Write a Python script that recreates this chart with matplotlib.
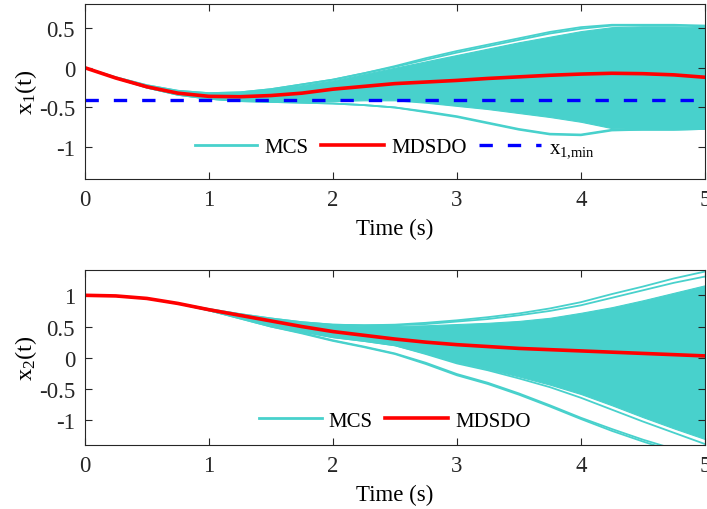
import numpy as np
import matplotlib
matplotlib.use('Agg')
import matplotlib.pyplot as plt
from matplotlib.lines import Line2D

plt.rcParams['font.family'] = ['Liberation Serif', 'DejaVu Serif']
plt.rcParams['mathtext.fontset'] = 'custom'
plt.rcParams['mathtext.rm'] = 'Liberation Serif'
plt.rcParams['mathtext.it'] = 'Liberation Serif'

# time samples (s)
t = [0, 0.25, 0.5, 0.75, 1, 1.25, 1.5, 1.75, 2, 2.25, 2.5, 2.75,
     3, 3.25, 3.5, 3.75, 4, 4.25, 4.5, 4.75, 5]

# ---- x1(t) ----
x1_mdsdo = [0, -0.13, -0.24, -0.32, -0.36, -0.365, -0.35, -0.32, -0.27, -0.235, -0.2, -0.18,
            -0.16, -0.135, -0.115, -0.095, -0.08, -0.07, -0.075, -0.09, -0.12]
x1_band_hi = [0, -0.12, -0.22, -0.29, -0.32, -0.31, -0.27, -0.22, -0.16, -0.08, 0.0, 0.08,
              0.16, 0.24, 0.32, 0.39, 0.46, 0.51, 0.52, 0.52, 0.51]
x1_band_lo = [0, -0.13, -0.25, -0.34, -0.39, -0.41, -0.42, -0.42, -0.42, -0.41, -0.41, -0.44,
              -0.48, -0.52, -0.57, -0.62, -0.68, -0.76, -0.77, -0.77, -0.76]
x1_out_hi = [[0, -0.12, -0.22, -0.29, -0.32, -0.31, -0.27, -0.21, -0.15, -0.07, 0.02, 0.12,
              0.21, 0.29, 0.37, 0.45, 0.51, 0.54, 0.54, 0.54, 0.53],
             [0, -0.12, -0.22, -0.29, -0.32, -0.31, -0.27, -0.21, -0.15, -0.07, 0.01, 0.10,
              0.19, 0.27, 0.35, 0.43, 0.49, 0.53, 0.53, 0.53, 0.52]]
x1_out_lo = [[0, -0.13, -0.25, -0.34, -0.39, -0.42, -0.43, -0.44, -0.45, -0.47, -0.5, -0.55,
              -0.61, -0.69, -0.77, -0.83, -0.84, -0.78, -0.78, -0.78, -0.77],
             [0, -0.13, -0.25, -0.34, -0.39, -0.42, -0.43, -0.44, -0.45, -0.47, -0.5, -0.56,
              -0.62, -0.70, -0.78, -0.84, -0.85, -0.79, -0.78, -0.78, -0.77]]
x1_min = -0.4

# ---- x2(t) ----
x2_mdsdo = [1.0, 0.99, 0.95, 0.87, 0.77, 0.68, 0.59, 0.5, 0.42, 0.36, 0.3, 0.25,
            0.21, 0.18, 0.15, 0.13, 0.11, 0.09, 0.07, 0.05, 0.03]
x2_band_hi = [1.0, 0.99, 0.95, 0.87, 0.78, 0.70, 0.63, 0.57, 0.53, 0.51, 0.51, 0.52,
              0.54, 0.56, 0.59, 0.64, 0.72, 0.81, 0.92, 1.04, 1.16]
x2_band_lo = [1.0, 0.99, 0.95, 0.87, 0.76, 0.64, 0.53, 0.42, 0.33, 0.27, 0.2, 0.07,
              -0.07, -0.18, -0.3, -0.43, -0.58, -0.76, -0.95, -1.13, -1.3]
x2_out_hi = [[1.0, 0.99, 0.95, 0.87, 0.78, 0.70, 0.63, 0.57, 0.53, 0.52, 0.53, 0.56,
              0.6, 0.65, 0.71, 0.79, 0.89, 1.02, 1.14, 1.27, 1.38],
             [1.0, 0.99, 0.95, 0.87, 0.78, 0.70, 0.63, 0.57, 0.53, 0.52, 0.52, 0.54,
              0.58, 0.62, 0.68, 0.75, 0.84, 0.96, 1.08, 1.2, 1.3]]
x2_out_lo = [[1.0, 0.99, 0.95, 0.87, 0.76, 0.63, 0.5, 0.4, 0.28, 0.18, 0.07, -0.08,
              -0.26, -0.4, -0.57, -0.76, -0.96, -1.14, -1.31, -1.46, -1.6],
             [1.0, 0.99, 0.95, 0.87, 0.76, 0.63, 0.5, 0.39, 0.27, 0.17, 0.06, -0.1,
              -0.28, -0.42, -0.59, -0.78, -0.98, -1.17, -1.34, -1.5, -1.64],
             [1.0, 0.99, 0.95, 0.87, 0.76, 0.64, 0.53, 0.42, 0.33, 0.27, 0.2, 0.06,
              -0.09, -0.2, -0.33, -0.47, -0.64, -0.83, -1.02, -1.2, -1.38]]

teal = '#48D1CC'
fs = 16.5
lfs = 15

fig = plt.figure(figsize=(7.07, 5.10), dpi=100)
ax1 = fig.add_axes([0.120, 0.647, 0.877, 0.343])
ax2 = fig.add_axes([0.120, 0.125, 0.877, 0.343])


def band(ax, hi, lo, outs):
    ax.fill_between(t, lo, hi, color=teal, lw=0.8, edgecolor=teal)
    for o in outs:
        ax.plot(t, o, color=teal, lw=1.3)


band(ax1, x1_band_hi, x1_band_lo, x1_out_hi + x1_out_lo)
ax1.plot(t, x1_mdsdo, color='red', lw=2.6)
ax1.axhline(x1_min, color='blue', lw=2.4, ls=(0, (4, 4.5)))

band(ax2, x2_band_hi, x2_band_lo, x2_out_hi + x2_out_lo)
ax2.plot(t, x2_mdsdo, color='red', lw=2.6)

ax1.set_ylim(-1.4, 0.8)
ax1.set_yticks([-1, -0.5, 0, 0.5])
ax1.set_yticklabels(['-1', '-0.5', '0', '0.5'])
ax2.set_ylim(-1.4, 1.4)
ax2.set_yticks([-1, -0.5, 0, 0.5, 1])
ax2.set_yticklabels(['-1', '-0.5', '0', '0.5', '1'])

ax1.set_ylabel('$\\mathregular{x_1(t)}$', fontsize=fs + 1, labelpad=0)
ax2.set_ylabel('$\\mathregular{x_2(t)}$', fontsize=fs + 1, labelpad=0)

h_mcs = Line2D([], [], color=teal, lw=2)
h_red = Line2D([], [], color='red', lw=2.6)
h_blue = Line2D([], [], color='blue', lw=2.4, ls=(0, (4, 4.5)))
ax1.legend([h_mcs, h_red, h_blue], ['MCS', 'MDSDO', '$\\mathregular{x_{1{,}min}}$'],
           loc='center', bbox_to_anchor=(0.5, 0.175), ncol=3, frameon=False,
           fontsize=lfs, handlelength=3.0, columnspacing=0.6, handletextpad=0.35)
ax2.legend([h_mcs, h_red], ['MCS', 'MDSDO'],
           loc='center', bbox_to_anchor=(0.5, 0.14), ncol=2, frameon=False,
           fontsize=lfs, handlelength=3.0, columnspacing=0.6, handletextpad=0.35)

for ax in (ax1, ax2):
    ax.set_xlim(0, 5)
    ax.set_xticks([0, 1, 2, 3, 4, 5])
    ax.set_xlabel('Time (s)', fontsize=fs, labelpad=6)
    ax.tick_params(direction='in', top=True, right=True, labelsize=fs,
                   length=5, width=0.8, colors='#262626', pad=7)
    for s in ax.spines.values():
        s.set_color('#262626')
        s.set_linewidth(0.8)

fig.savefig('out.png', dpi=100)
